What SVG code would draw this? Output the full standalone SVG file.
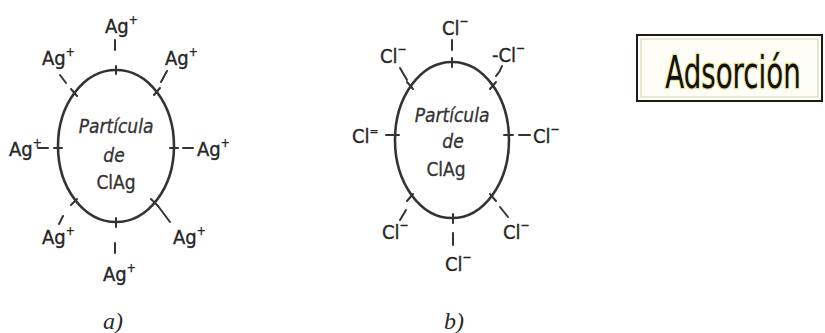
<svg xmlns="http://www.w3.org/2000/svg" width="825" height="333" viewBox="0 0 825 333">
<style>
.ring{fill:none;stroke:#333;stroke-width:2.6}
.tk{stroke:#333;stroke-width:2;stroke-linecap:round}
.lbl{font-family:"DejaVu Sans Condensed","Liberation Sans Narrow","Liberation Sans",sans-serif;font-size:20px;fill:#262626;stroke:#262626;stroke-width:0.35}
.sup{font-size:12px}
.in{font-family:"DejaVu Sans Condensed","Liberation Sans",sans-serif;font-size:19px;fill:#333;stroke:#333;stroke-width:0.3;text-anchor:middle}
.it{font-style:italic}
.cap{font-family:"Liberation Serif",serif;font-size:24px;font-style:italic;fill:#2a2a2a;text-anchor:middle}
</style>
<rect width="825" height="333" fill="#ffffff"/>

<g id="particle-a">
  <ellipse class="ring" cx="116" cy="146" rx="58" ry="76"/>
  <text class="in it" x="116" y="133">Partícula</text>
  <text class="in it" x="114" y="162">de</text>
  <text class="in" x="116" y="189">ClAg</text>
</g>
<g id="particle-b">
  <ellipse class="ring" cx="452" cy="140" rx="57" ry="78"/>
  <text class="in it" x="452" y="122">Partícula</text>
  <text class="in it" x="453" y="148">de</text>
  <text class="in" x="446" y="176">ClAg</text>
</g>

<g id="connectors">
  <line class="tk" x1="116" y1="66" x2="116" y2="74"/>
  <line class="tk" x1="116" y1="218" x2="116" y2="227"/>
  <line class="tk" x1="54" y1="148" x2="62" y2="148"/>
  <line class="tk" x1="170" y1="148" x2="178" y2="148"/>
  <line class="tk" x1="71" y1="89" x2="77" y2="96"/>
  <line class="tk" x1="160" y1="88" x2="154" y2="95"/>
  <line class="tk" x1="71" y1="205" x2="77" y2="199"/>
  <line class="tk" x1="151" y1="199" x2="158" y2="206"/>
  <line class="tk" x1="115" y1="40" x2="115" y2="50"/>
  <line class="tk" x1="60" y1="75" x2="66" y2="83"/>
  <line class="tk" x1="167" y1="71" x2="161" y2="82"/>
  <line class="tk" x1="38" y1="148" x2="48" y2="148"/>
  <line class="tk" x1="183" y1="148" x2="193" y2="148"/>
  <line class="tk" x1="63" y1="216" x2="59" y2="224"/>
  <line class="tk" x1="158" y1="206" x2="170" y2="222"/>
  <line class="tk" x1="115" y1="243" x2="115" y2="253"/>

  <line class="tk" x1="452" y1="58" x2="452" y2="67"/>
  <line class="tk" x1="453" y1="214" x2="453" y2="223"/>
  <line class="tk" x1="390" y1="135" x2="399" y2="135"/>
  <line class="tk" x1="504" y1="135" x2="513" y2="135"/>
  <line class="tk" x1="407" y1="82" x2="413" y2="89"/>
  <line class="tk" x1="496" y1="82" x2="490" y2="89"/>
  <line class="tk" x1="407" y1="201" x2="413" y2="194"/>
  <line class="tk" x1="490" y1="194" x2="496" y2="201"/>
  <line class="tk" x1="452" y1="40" x2="452" y2="50"/>
  <line class="tk" x1="400" y1="68" x2="407" y2="80"/>
  <path class="tk" fill="none" d="M502 66 Q500 72 496 76"/>
  <line class="tk" x1="386" y1="135" x2="391" y2="135"/>
  <line class="tk" x1="519" y1="135" x2="530" y2="135"/>
  <line class="tk" x1="406" y1="210" x2="400" y2="220"/>
  <line class="tk" x1="500" y1="207" x2="508" y2="217"/>
  <line class="tk" x1="453" y1="233" x2="453" y2="245"/>
</g>

<g id="labels-a">
  <text class="lbl" x="105" y="33">Ag<tspan class="sup" dy="-9">+</tspan></text>
  <text class="lbl" x="42" y="65">Ag<tspan class="sup" dy="-9">+</tspan></text>
  <text class="lbl" x="165" y="65">Ag<tspan class="sup" dy="-9">+</tspan></text>
  <text class="lbl" x="9" y="156">Ag<tspan class="sup" dy="-9">+</tspan></text>
  <text class="lbl" x="197" y="156">Ag<tspan class="sup" dy="-9">+</tspan></text>
  <text class="lbl" x="42" y="244">Ag<tspan class="sup" dy="-9">+</tspan></text>
  <text class="lbl" x="173" y="244">Ag<tspan class="sup" dy="-9">+</tspan></text>
  <text class="lbl" x="103" y="281">Ag<tspan class="sup" dy="-9">+</tspan></text>
</g>
<g id="labels-b">
  <text class="lbl" x="442" y="35">Cl<tspan class="sup" dy="-10">−</tspan></text>
  <text class="lbl" x="380" y="63">Cl<tspan class="sup" dy="-10">−</tspan></text>
  <text class="lbl" x="492" y="62">-Cl<tspan class="sup" dy="-10">−</tspan></text>
  <text class="lbl" x="352" y="143">Cl<tspan class="sup" dy="-8">=</tspan></text>
  <text class="lbl" x="533" y="143">Cl<tspan class="sup" dy="-10">−</tspan></text>
  <text class="lbl" x="382" y="239">Cl<tspan class="sup" dy="-10">−</tspan></text>
  <text class="lbl" x="503" y="239">Cl<tspan class="sup" dy="-10">−</tspan></text>
  <text class="lbl" x="445" y="271">Cl<tspan class="sup" dy="-10">−</tspan></text>
</g>

<g id="captions">
  <text class="cap" x="113" y="329">a)</text>
  <text class="cap" x="454" y="329">b)</text>
</g>

<g id="adsorcion">
  <rect x="637" y="35" width="185" height="66" fill="#fffef6" stroke="#1a1a1a" stroke-width="2"/>
  <rect x="641" y="39" width="177" height="58" fill="none" stroke="#d8d6b8" stroke-width="1.2"/>
  <text transform="translate(733,88) scale(0.7,1)" text-anchor="middle" font-family="DejaVu Sans Condensed, Liberation Sans, sans-serif" font-size="44" fill="#111" stroke="#e6e39a" stroke-width="2.5" paint-order="stroke">Adsorción</text>
</g>
</svg>
